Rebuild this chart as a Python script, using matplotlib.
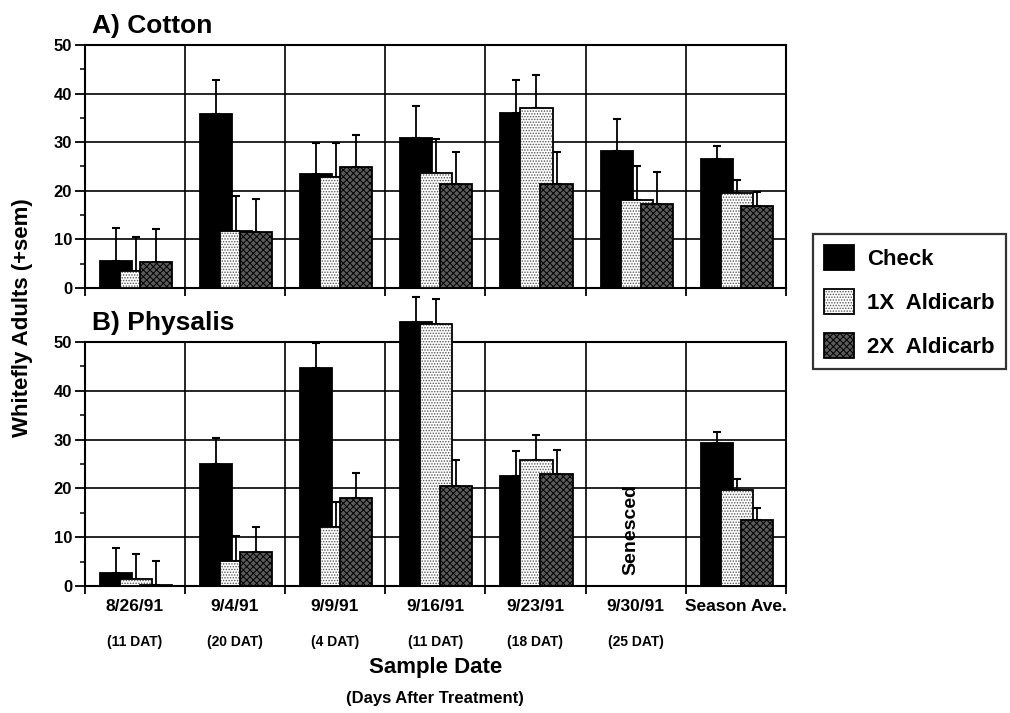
import matplotlib
matplotlib.use("Agg")
import matplotlib.pyplot as plt
import numpy as np
from matplotlib import font_manager
from matplotlib.legend_handler import HandlerTuple

# ---------------- data ----------------
dates = ["8/26/91", "9/4/91", "9/9/91", "9/16/91", "9/23/91", "9/30/91", "Season Ave."]
dat_labels = ["(11 DAT)", "(20 DAT)", "(4 DAT)", "(11 DAT)", "(18 DAT)", "(25 DAT)", ""]
series = ["Check", "1X  Aldicarb", "2X  Aldicarb"]

cotton_check = [5.5, 35.9, 23.4, 30.8, 36.1, 28.2, 26.6]
cotton_check_sem = [6.9, 6.8, 6.5, 6.6, 6.8, 6.6, 2.7]
cotton_1x = [3.5, 11.7, 22.9, 23.6, 37.1, 18.1, 19.5]
cotton_1x_sem = [7.0, 7.2, 6.9, 7.0, 6.7, 7.0, 2.8]
cotton_2x = [5.4, 11.5, 24.9, 21.4, 21.4, 17.2, 16.9]
cotton_2x_sem = [6.8, 6.9, 6.5, 6.6, 6.6, 6.7, 2.9]

phys_check = [2.7, 25.1, 44.6, 54.1, 22.5, np.nan, 29.3]
phys_check_sem = [5.1, 5.2, 5.2, 5.2, 5.2, np.nan, 2.2]
phys_1x = [1.4, 5.1, 12.1, 53.7, 25.8, np.nan, 19.7]
phys_1x_sem = [5.1, 5.2, 5.2, 5.2, 5.1, np.nan, 2.2]
phys_2x = [0.2, 7.0, 18.0, 20.5, 22.9, np.nan, 13.6]
phys_2x_sem = [4.9, 5.0, 5.2, 5.3, 4.9, np.nan, 2.3]

# ---------------- fonts ----------------
avail = {f.name for f in font_manager.fontManager.ttflist}
if "Liberation Sans Narrow" in avail:
    FAM = ["Liberation Sans Narrow", "DejaVu Sans"]
    NARROW = True
else:
    FAM = ["Liberation Sans", "DejaVu Sans"]
    NARROW = False
plt.rcParams["font.family"] = FAM
plt.rcParams["font.weight"] = "bold"
plt.rcParams["hatch.linewidth"] = 0.7

fig = plt.figure(figsize=(10.10, 7.13), dpi=100)
W, H = 1010.0, 713.0
L, R = 84.5, 786.0
ax1 = fig.add_axes([L / W, 1 - 288 / H, (R - L) / W, (288 - 45) / H])
ax2 = fig.add_axes([L / W, 1 - 586 / H, (R - L) / W, (586 - 342) / H])

styles = [
    dict(face="black", hatch=None, hcol="black"),
    dict(face="white", hatch="......", hcol="#555555"),
    dict(face="#5a5a5a", hatch="xxxxx", hcol="black"),
]
offsets = [-0.19, 0.01, 0.21]
bw = 0.32
x = np.arange(len(dates)) + 0.5

legend_handles = []


def draw_panel(ax, vals, sems, collect=False):
    for k, (v, s) in enumerate(zip(vals, sems)):
        st = styles[k]
        xs = x + offsets[k]
        v = np.array(v, dtype=float)
        s = np.array(s, dtype=float)
        z = 3 + k
        ax.errorbar(xs, v, yerr=[np.zeros_like(s), s], fmt="none", ecolor="black",
                    elinewidth=1.3, capsize=3, capthick=1.5, zorder=z - 0.5, clip_on=False)
        b1 = ax.bar(xs, v, width=bw, color=st["face"], hatch=st["hatch"],
                    edgecolor=st["hcol"], linewidth=0, zorder=z, clip_on=False)
        b2 = ax.bar(xs, v, width=bw, fill=False, edgecolor="black",
                    linewidth=1.3, zorder=z + 0.01, clip_on=False)
        if collect:
            legend_handles.append((b1.patches[0], b2.patches[0]))


def style_axes(ax):
    ax.set_xlim(0, 7)
    ax.set_ylim(0, 50)
    ax.set_axisbelow(True)
    ax.set_yticks(np.arange(0, 51, 10))
    ax.set_yticks(np.arange(5, 50, 10), minor=True)
    ax.set_xticks(np.arange(0, 8))
    ax.set_xticklabels([])
    ax.tick_params(axis="y", which="major", direction="out", length=7, width=1.3,
                   labelsize=12, pad=2)
    ax.tick_params(axis="y", which="minor", direction="out", length=3.5, width=1.1)
    ax.tick_params(axis="x", which="major", direction="out", length=6, width=1.3)
    for lab in ax.get_yticklabels():
        lab.set_fontweight("bold")
    ax.grid(True, which="major", axis="both", color="black", linewidth=1.2)
    for sp in ax.spines.values():
        sp.set_linewidth(1.5)
        sp.set_zorder(2.5)


draw_panel(ax1, [cotton_check, cotton_1x, cotton_2x],
           [cotton_check_sem, cotton_1x_sem, cotton_2x_sem], collect=True)
draw_panel(ax2, [phys_check, phys_1x, phys_2x],
           [phys_check_sem, phys_1x_sem, phys_2x_sem])
style_axes(ax1)
style_axes(ax2)

ax2.text(5.45, 11.5, "Senesced", rotation=90, ha="center", va="center",
         fontsize=14, fontweight="bold", zorder=6)

# x labels
for xi, d, dd in zip(x, dates, dat_labels):
    ax2.text(xi, -0.055, d, transform=ax2.get_xaxis_transform(), ha="center",
             va="top", fontsize=12.5, fontweight="bold")
    if dd:
        ax2.text(xi, -0.2, dd, transform=ax2.get_xaxis_transform(), ha="center",
                 va="top", fontsize=10, fontweight="bold")

fig.text((L + R) / 2 / W, 1 - 668 / H, "Sample Date", ha="center", va="center",
         fontsize=16, fontweight="bold")
fig.text((L + R) / 2 / W, 1 - 699 / H, "(Days After Treatment)", ha="center",
         va="center", fontsize=12, fontweight="bold")

fig.text(92 / W, 1 - 33 / H, "A) Cotton", ha="left", va="baseline",
         fontsize=19, fontweight="bold")
fig.text(92 / W, 1 - 330 / H, "B) Physalis", ha="left", va="baseline",
         fontsize=19, fontweight="bold")
fig.text(23 / W, 1 - 318 / H, "Whitefly Adults (+sem)", rotation=90, ha="center",
         va="center", fontsize=16, fontweight="bold")

fs = 17 if NARROW else 16
leg = fig.legend(legend_handles, series, loc="upper left",
                 bbox_to_anchor=(813 / W, 1 - 234 / H), borderaxespad=0,
                 handler_map={tuple: HandlerTuple(ndivide=1, pad=0)},
                 handlelength=1.35, handleheight=1.35, handletextpad=0.6,
                 labelspacing=0.85, borderpad=0.5, fancybox=False,
                 frameon=True, edgecolor="black", prop=dict(family=FAM, weight="bold", size=fs))
leg.get_frame().set_linewidth(1.6)

fig.savefig("out.png", dpi=100, facecolor="white")
